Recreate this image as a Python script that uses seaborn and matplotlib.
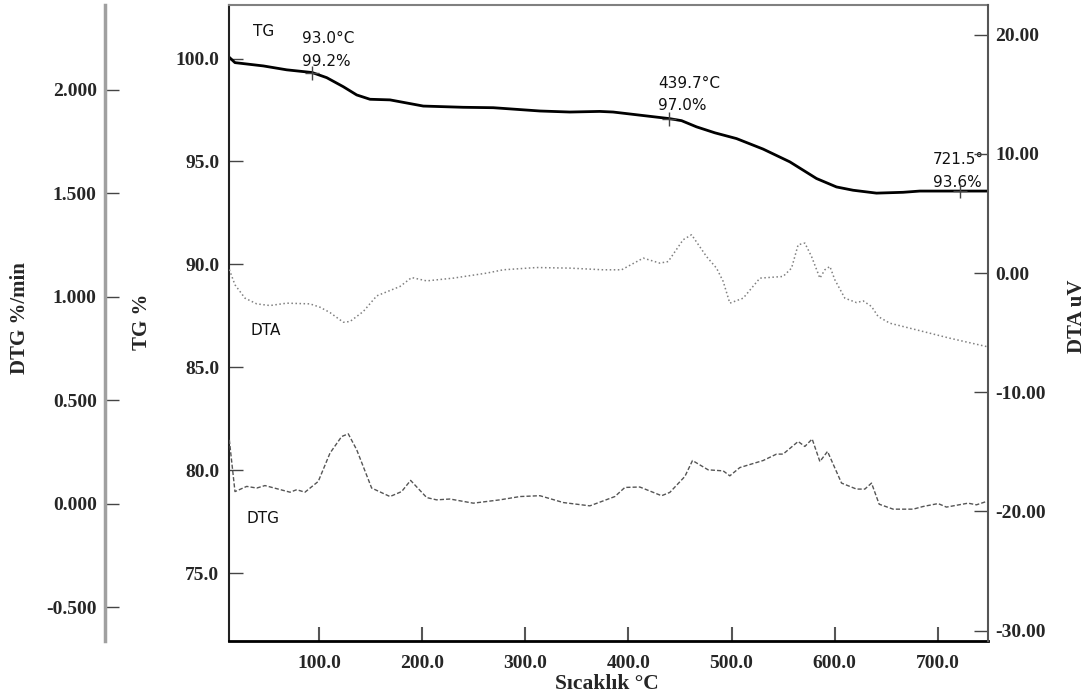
import numpy as np
import pandas as pd
import seaborn as sns
import matplotlib.pyplot as plt
from matplotlib.ticker import FormatStrFormatter

# TG curve (%)
tg_temp = [12.4, 18.2, 45.7, 68.4, 93.0, 107.2, 123.3, 136.3, 149.2, 168.6, 200.9, 239.7,
           268.8, 314.1, 343.1, 372.1, 385.1, 439.7, 451.5, 466.0, 483.8, 504.8, 530.6,
           556.5, 582.4, 601.8, 617.9, 640.6, 666.4, 682.6, 721.5, 748.8]
tg_val = [100.07, 99.80, 99.64, 99.45, 99.32, 99.07, 98.63, 98.23, 98.02, 97.99, 97.69, 97.63,
          97.61, 97.45, 97.40, 97.43, 97.40, 97.08, 96.98, 96.68, 96.39, 96.11, 95.60,
          94.98, 94.17, 93.76, 93.60, 93.46, 93.50, 93.56, 93.56, 93.56]

# DTA curve (uV)
dta_temp = [12.7, 18.2, 27.9, 39.3, 52.2, 68.4, 91.0, 100.7, 110.4, 123.3, 129.8, 142.7,
            155.7, 178.3, 189.6, 204.2, 230.0, 262.4, 278.5, 310.9, 343.1, 375.5, 393.3,
            414.3, 430.4, 438.5, 453.0, 461.2, 475.7, 485.4, 491.9, 498.3, 511.3, 527.5,
            550.0, 558.2, 564.6, 571.1, 577.6, 585.7, 590.5, 595.4, 600.2, 609.9, 621.2,
            627.7, 635.8, 642.2, 653.5, 679.4, 711.7, 747.3]
dta_val = [0.3, -0.98, -2.10, -2.58, -2.72, -2.52, -2.58, -2.86, -3.31, -4.12, -4.06, -3.22,
           -1.91, -1.12, -0.37, -0.65, -0.42, 0.0, 0.28, 0.47, 0.42, 0.28, 0.28,
           1.26, 0.84, 0.97, 2.80, 3.22, 1.39, 0.42, -0.70, -2.52, -2.10, -0.42,
           -0.28, 0.42, 2.38, 2.52, 1.39, -0.42, 0.28, 0.56, -0.56, -2.10, -2.47,
           -2.33, -2.80, -3.64, -4.20, -4.76, -5.46, -6.16]

# DTG curve (%/min)
dtg_temp = [12.7, 18.2, 29.6, 39.3, 47.3, 71.6, 78.1, 86.1, 99.0, 110.4, 121.7, 128.1,
            136.3, 150.8, 168.6, 179.9, 188.6, 204.2, 213.8, 226.8, 249.4, 275.2, 294.7,
            314.1, 336.7, 362.5, 375.5, 386.8, 396.5, 411.0, 432.1, 440.1, 454.7, 462.1,
            477.3, 491.9, 498.3, 508.0, 530.6, 543.6, 550.0, 564.6, 571.1, 578.2, 585.7,
            593.1, 606.7, 621.2, 629.3, 635.8, 643.2, 656.8, 676.2, 685.9, 700.4, 708.5,
            729.5, 737.6, 747.3]
dtg_val = [0.309, 0.059, 0.084, 0.076, 0.088, 0.056, 0.068, 0.056, 0.108, 0.245, 0.325, 0.338,
           0.261, 0.076, 0.035, 0.059, 0.113, 0.030, 0.019, 0.023, 0.003, 0.019, 0.035,
           0.039, 0.006, -0.010, 0.014, 0.035, 0.079, 0.081, 0.039, 0.055, 0.132, 0.209,
           0.164, 0.159, 0.135, 0.175, 0.209, 0.240, 0.240, 0.301, 0.277, 0.313, 0.204,
           0.253, 0.100, 0.071, 0.071, 0.100, -0.002, -0.026, -0.026, -0.013, 0.001, -0.016,
           0.003, -0.005, 0.011]

# marked TG points
mark_temp = [93.0, 439.7, 721.5]
mark_tg = [99.3, 97.08, 93.56]

sns.set_style("white")
plt.rcParams['font.family'] = ['Liberation Serif', 'DejaVu Serif']
plt.rcParams['font.weight'] = 'bold'
plt.rcParams['axes.unicode_minus'] = False

fig = plt.figure(figsize=(10.92, 6.97), dpi=100)
ax = fig.add_axes([229 / 1092, 1 - 641 / 697, 759 / 1092, 636 / 697])
ax_dtg = ax.twinx()
ax_dta = ax.twinx()

sns.lineplot(x=tg_temp, y=tg_val, ax=ax, color='black', linewidth=2)
ax.scatter(mark_temp, mark_tg, marker='+', s=90, color='#444444', linewidths=1, zorder=5)
sns.lineplot(x=dta_temp, y=dta_val, ax=ax_dta, color='#808080', linewidth=1.1, linestyle=':')
sns.lineplot(x=dtg_temp, y=dtg_val, ax=ax_dtg, color='#555555', linewidth=1,
             dashes=False, linestyle=(0, (3, 1.5)))

ax.set_xlim(12.4, 748.8)
ax.set_ylim(71.7, 102.6)
ax_dtg.set_ylim(-0.663, 2.41)
ax_dta.set_ylim(-30.87, 22.5)

ax.set_xticks([100, 200, 300, 400, 500, 600, 700])
ax.set_yticks([75, 80, 85, 90, 95, 100])
ax_dtg.set_yticks([-0.5, 0.0, 0.5, 1.0, 1.5, 2.0])
ax_dta.set_yticks([-30, -20, -10, 0, 10, 20])
ax.xaxis.set_major_formatter(FormatStrFormatter('%.1f'))
ax.yaxis.set_major_formatter(FormatStrFormatter('%.1f'))
ax_dtg.yaxis.set_major_formatter(FormatStrFormatter('%.3f'))
ax_dta.yaxis.set_major_formatter(FormatStrFormatter('%.2f'))

# spines
for s in ['top', 'right', 'left', 'bottom']:
    ax.spines[s].set_visible(True)
ax.spines['left'].set_color('#222222')
ax.spines['left'].set_linewidth(1.5)
ax.spines['bottom'].set_color('black')
ax.spines['bottom'].set_linewidth(2)
ax.spines['top'].set_color('#808080')
ax.spines['top'].set_linewidth(1.5)
ax.spines['right'].set_visible(False)

for s in ['top', 'bottom', 'right']:
    ax_dtg.spines[s].set_visible(False)
ax_dtg.spines['left'].set_visible(True)
ax_dtg.spines['left'].set_position(('axes', (105 - 229) / 759))
ax_dtg.spines['left'].set_color('#a0a0a0')
ax_dtg.spines['left'].set_linewidth(2.5)
ax_dtg.yaxis.tick_left()

for s in ['top', 'bottom', 'left']:
    ax_dta.spines[s].set_visible(False)
ax_dta.spines['right'].set_visible(True)
ax_dta.spines['right'].set_color('#555555')
ax_dta.spines['right'].set_linewidth(1.5)

ax.tick_params(axis='x', direction='in', length=10, width=1.5, color='#555555',
               labelsize=14, pad=10, bottom=True)
ax.tick_params(axis='y', direction='in', length=10, width=1, color='#444444',
               labelsize=14, pad=7, left=True)
ax_dtg.tick_params(axis='y', direction='in', length=10, width=1, color='#444444',
                   labelsize=14, pad=6, left=True, right=False)
ax_dta.tick_params(axis='y', direction='in', length=10, width=1, color='#444444',
                   labelsize=14, pad=5, right=True)

ax.set_xlabel('')
ax.set_ylabel('')
ax_dtg.set_ylabel('')
ax_dta.set_ylabel('')

fig.text(607 / 1092, 1 - 684 / 697, 'Sıcaklık °C', ha='center', va='center', fontsize=15.5)
fig.text(20 / 1092, 1 - 318 / 697, 'DTG %/min', ha='center', va='center', rotation=90, fontsize=15)
fig.text(142 / 1092, 1 - 322 / 697, 'TG %', ha='center', va='center', rotation=90, fontsize=15)
fig.text(1077 / 1092, 1 - 316 / 697, 'DTA uV', ha='center', va='center', rotation=90, fontsize=15)

note = dict(family='DejaVu Sans', weight='normal', fontsize=11, color='#111111',
            ha='left', va='center')
ax.text(35.4, 101.3, 'TG', **note)
ax.text(82.9, 100.96, '93.0°C', **note)
ax.text(82.9, 99.85, '99.2%', **note)
ax.text(428.8, 98.8, '439.7°C', **note)
ax.text(428.8, 97.71, '97.0%', **note)
ax.text(695.5, 95.09, '721.5°', **note)
ax.text(695.5, 94.0, '93.6%', **note)
ax.text(32.8, 86.77, 'DTA', **note)
ax.text(29.6, 77.64, 'DTG', **note)

fig.savefig('out.png', dpi=100)
